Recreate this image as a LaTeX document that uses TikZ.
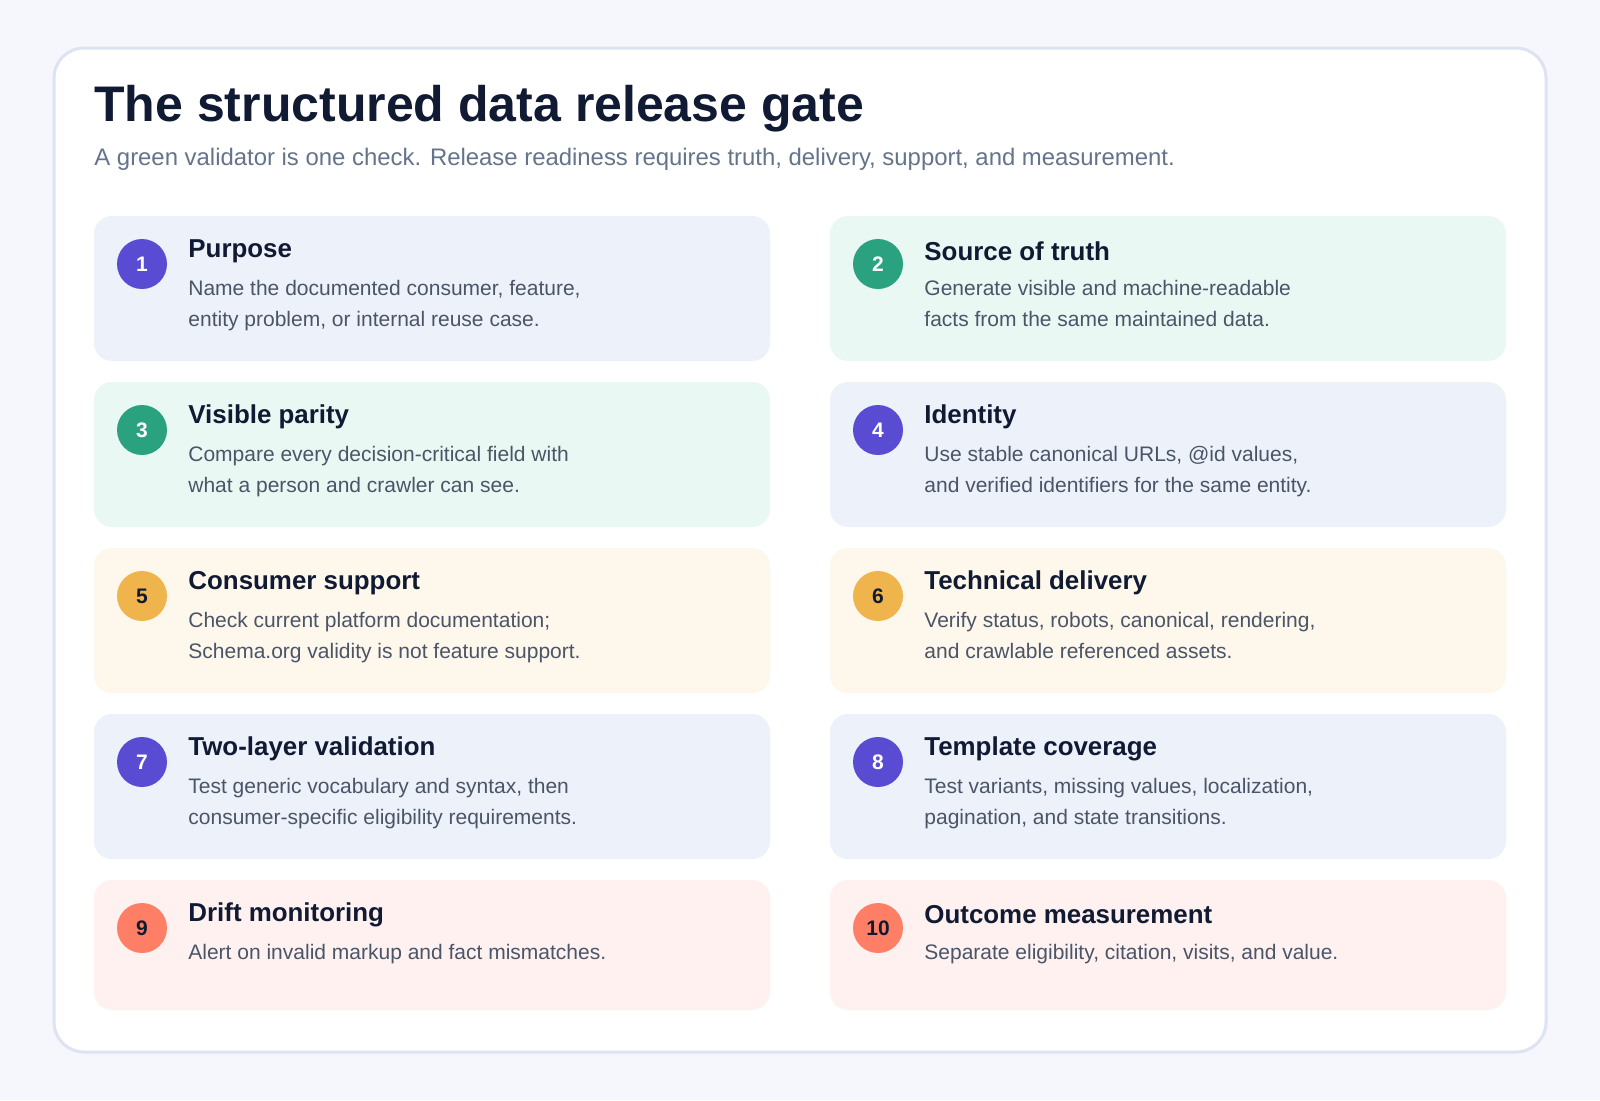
\documentclass[tikz,border=0pt]{standalone}
\usepackage{fontspec}
\setmainfont{Liberation Sans}
\definecolor{bg}{HTML}{F5F7FC}
\definecolor{frame}{HTML}{DDE3F2}
\definecolor{ink}{HTML}{111A33}
\definecolor{sub}{HTML}{64748B}
\definecolor{body}{HTML}{4B5568}
\definecolor{cB}{HTML}{EDF1FA}\definecolor{dB}{HTML}{5A4BD3}
\definecolor{cG}{HTML}{EAF8F3}\definecolor{dG}{HTML}{2BA27F}
\definecolor{cY}{HTML}{FEF7EB}\definecolor{dY}{HTML}{F0B44C}
\definecolor{cR}{HTML}{FEF1EF}\definecolor{dR}{HTML}{FF7F66}
\tikzset{
 card/.style={rounded corners=9pt,draw=none},
 num/.style={circle,minimum size=25pt,inner sep=0pt,font=\bfseries\fontsize{10.5}{12}\selectfont},
 head/.style={anchor=west,inner sep=0pt,text=ink,font=\bfseries\fontsize{12.95}{15}\selectfont},
 desc/.style={anchor=north west,inner sep=0pt,text=body,align=left,font=\fontsize{10.5}{15.5}\selectfont},
}
\newcommand\cardx[9]{%
 \fill[card,#5] (#2,#3) rectangle ++(676,#4);
 \node[num,fill=#6,text=#7] (n#1) at ($(#2,#3)+(48,48)$) {#8};
 \node[head] (h#1) at ($(#2,#3)+(94,35)$) {#9};
}
\usetikzlibrary{calc}
\begin{document}
\begin{tikzpicture}[x=0.5pt,y=-0.5pt]
\useasboundingbox (0,0) rectangle (1600,1100);
\fill[bg] (0,0) rectangle (1600,1100);
\draw[frame,line width=1.5pt,fill=white,rounded corners=15pt] (54,48) rectangle (1546,1052);
\node[anchor=base west,inner sep=0pt,text=ink,font=\bfseries\fontsize{25}{30}\selectfont] (title) at (94,121) {The structured data release gate};
\node[anchor=base west,inner sep=0pt,text=sub,font=\fontsize{11.95}{14}\selectfont] (subtitle) at (94,165) {A green validator is one check. Release readiness requires truth, delivery, support, and measurement.};
\cardx{1}{94}{216}{145}{cB}{dB}{white}{1}{Purpose}
\node[desc] (d1) at (188,280) {Name the documented consumer, feature,\\entity problem, or internal reuse case.};
\cardx{2}{830}{216}{145}{cG}{dG}{white}{2}{Source of truth}
\node[desc] (d2) at (924,280) {Generate visible and machine-readable\\facts from the same maintained data.};
\cardx{3}{94}{382}{145}{cG}{dG}{white}{3}{Visible parity}
\node[desc] (d3) at (188,446) {Compare every decision-critical field with\\what a person and crawler can see.};
\cardx{4}{830}{382}{145}{cB}{dB}{white}{4}{Identity}
\node[desc] (d4) at (924,446) {Use stable canonical URLs, @id values,\\and verified identifiers for the same entity.};
\cardx{5}{94}{548}{145}{cY}{dY}{ink}{5}{Consumer support}
\node[desc] (d5) at (188,612) {Check current platform documentation;\\Schema.org validity is not feature support.};
\cardx{6}{830}{548}{145}{cY}{dY}{ink}{6}{Technical delivery}
\node[desc] (d6) at (924,612) {Verify status, robots, canonical, rendering,\\and crawlable referenced assets.};
\cardx{7}{94}{714}{145}{cB}{dB}{white}{7}{Two-layer validation}
\node[desc] (d7) at (188,778) {Test generic vocabulary and syntax, then\\consumer-specific eligibility requirements.};
\cardx{8}{830}{714}{145}{cB}{dB}{white}{8}{Template coverage}
\node[desc] (d8) at (924,778) {Test variants, missing values, localization,\\pagination, and state transitions.};
\cardx{9}{94}{880}{130}{cR}{dR}{ink}{9}{Drift monitoring}
\node[desc] (d9) at (188,944) {Alert on invalid markup and fact mismatches.};
\cardx{10}{830}{880}{130}{cR}{dR}{ink}{10}{Outcome measurement}
\node[desc] (d10) at (924,944) {Separate eligibility, citation, visits, and value.};
\end{tikzpicture}
\end{document}
